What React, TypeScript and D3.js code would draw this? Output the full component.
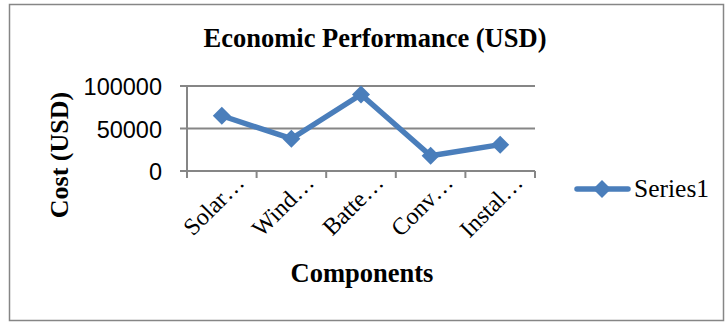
import React from "react";
import * as d3 from "d3";

const categories = ["Solar…", "Wind…", "Batte…", "Conv…", "Instal…"];
const seriesName = "Series1";
const values = [65000, 38000, 90000, 18000, 31000];
const yTicks = [0, 50000, 100000];

export default function App() {
  const W = 725, H = 323;
  const left = 187, right = 535, top = 86, bottom = 171;
  const x = d3.scaleBand<string>().domain(categories).range([left, right]);
  const y = d3.scaleLinear().domain([0, 100000]).range([bottom, top]);
  const color = "#4A7EBB";
  const line = d3.line<number>()
    .x((_, i) => (x(categories[i]) as number) + x.bandwidth() / 2)
    .y((d) => y(d));
  const diamond = (cx: number, cy: number, r: number) =>
    `M${cx},${cy - r}L${cx + r},${cy}L${cx},${cy + r}L${cx - r},${cy}Z`;
  const serif = "'Liberation Serif', 'Times New Roman', serif";
  const sans = "'Liberation Sans', Arial, sans-serif";
  const tickXs = [...categories.map((c) => x(c) as number), right];
  return (
    <svg width={W} height={H} style={{ position: "absolute", left: 0, top: 0 }}>
      <rect x={0} y={0} width={W} height={H} fill="#fff" />
      <rect x={9.5} y={4.5} width={714} height={316} fill="none" stroke="#868686" strokeWidth={1.5} />
      <text x={375} y={47} textAnchor="middle" fontFamily={serif} fontWeight="bold" fontSize={26.5}>
        Economic Performance (USD)
      </text>
      {yTicks.map((t) => (
        <g key={t}>
          <line x1={left - 7} x2={right} y1={y(t)} y2={y(t)} stroke="#868686" strokeWidth={2} />
          <text x={162} y={y(t) + 9} textAnchor="end" fontFamily={sans} fontSize={23.5} fill="#000">
            {t}
          </text>
        </g>
      ))}
      <line x1={left} x2={left} y1={top} y2={bottom + 7} stroke="#868686" strokeWidth={2} />
      {tickXs.map((tx, i) => (
        <line key={i} x1={tx} x2={tx} y1={bottom} y2={bottom + 7} stroke="#868686" strokeWidth={2} />
      ))}
      {categories.map((c) => {
        const cx = (x(c) as number) + x.bandwidth() / 2 + 24;
        const cy = 184;
        return (
          <text key={c} x={cx} y={cy} transform={`rotate(-45 ${cx} ${cy})`} textAnchor="end"
            fontFamily={serif} fontSize={24} fill="#000">
            {c}
          </text>
        );
      })}
      <path d={line(values) || ""} fill="none" stroke={color} strokeWidth={5.5} strokeLinejoin="round" />
      {values.map((v, i) => (
        <path key={i} d={diamond((x(categories[i]) as number) + x.bandwidth() / 2, y(v), 9)} fill={color} />
      ))}
      <text transform={`translate(68 155) rotate(-90)`} textAnchor="middle" fontFamily={serif}
        fontWeight="bold" fontSize={26}>
        Cost (USD)
      </text>
      <text x={362} y={282} textAnchor="middle" fontFamily={serif} fontWeight="bold" fontSize={26.5}>
        Components
      </text>
      <line x1={577} x2={628} y1={189} y2={189} stroke={color} strokeWidth={5.5} strokeLinecap="round" />
      <path d={diamond(602, 189, 9)} fill={color} />
      <text x={634} y={197} fontFamily={serif} fontSize={25.5} fill="#000">
        {seriesName}
      </text>
    </svg>
  );
}
